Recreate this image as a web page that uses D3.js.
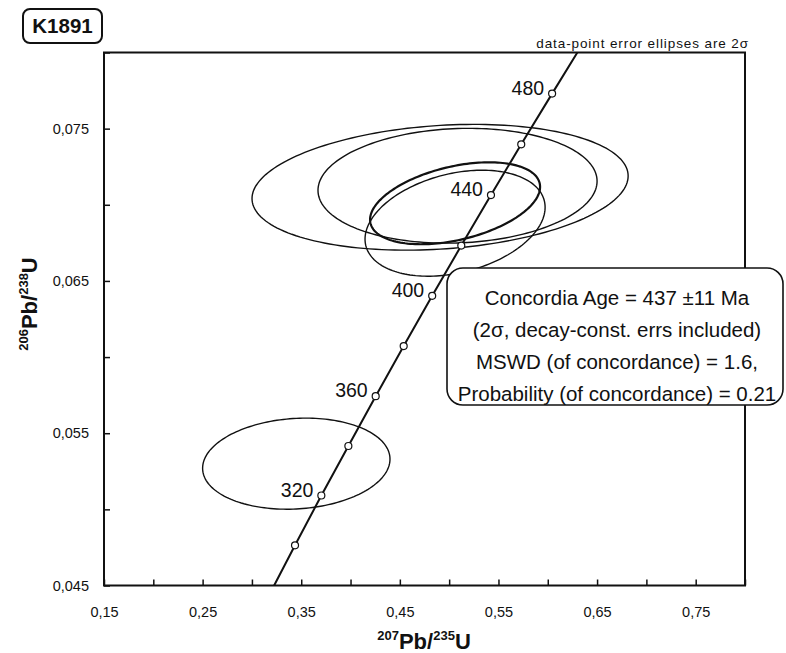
<!DOCTYPE html>
<html>
<head>
<meta charset="utf-8">
<script src="https://cdn.jsdelivr.net/npm/d3@7"></script>
<style>
    body { margin: 0; background: #fff; }
    text { font-family: "Liberation Sans", Arial, sans-serif; fill: #111; }
</style>
</head>
<body>
<div id="chart"></div>
<script>

// error ellipses (2 sigma): centre, half-widths and error correlation
var ellX   = [0.4908, 0.5085, 0.5060, 0.5060, 0.3450];
var ellY   = [0.07115, 0.07125, 0.07010, 0.06879, 0.05300];
var ellSX  = [0.1907, 0.1415, 0.0862, 0.0913, 0.0950];
var ellSY  = [0.00413, 0.00377, 0.00269, 0.00348, 0.00299];
var ellRho = [0.18, 0.08, 0.40, 0.30, 0.10];
var ellBold = [false, false, true, false, false];

// concordia curve, read at 20 Ma steps (ends clipped to the frame)
var concAge = [284, 300, 320, 340, 360, 380, 400, 420, 440, 460, 480, 496];
var concX   = [0.3225, 0.3437, 0.3704, 0.3978, 0.4255, 0.4539, 0.4828, 0.5123, 0.5424, 0.5731, 0.6044, 0.6300];
var concY   = [0.04500, 0.04764, 0.05091, 0.05416, 0.05743, 0.06072, 0.06402, 0.06732, 0.07064, 0.07397, 0.07730, 0.08000];
var markerAges = [300, 320, 340, 360, 380, 400, 420, 440, 460, 480];
var labelAges  = [320, 360, 400, 440, 480];

// axes
var xTicks = [0.15, 0.20, 0.25, 0.30, 0.35, 0.40, 0.45, 0.50, 0.55, 0.60, 0.65, 0.70, 0.75, 0.80];
var xTickLabels = {"0.15": "0,15", "0.25": "0,25", "0.35": "0,35", "0.45": "0,45", "0.55": "0,55", "0.65": "0,65", "0.75": "0,75"};
var yTicks = [0.045, 0.050, 0.055, 0.060, 0.065, 0.070, 0.075, 0.080];
var yTickLabels = {"0.045": "0,045", "0.055": "0,055", "0.065": "0,065", "0.075": "0,075"};

var infoLines = [
    "Concordia Age = 437 \u00b111 Ma",
    "(2\u03c3, decay-const. errs included)",
    "MSWD (of concordance) = 1.6,",
    "Probability (of concordance) = 0.21"
];

var margin = {top: 52.5, right: 41, bottom: 67.5, left: 104};
var width = 786 - margin.left - margin.right,
    height = 653 - margin.top - margin.bottom;

var root = d3.select("#chart").append("svg")
    .attr("width", 786)
    .attr("height", 653);

var svg = root.append("g")
    .attr("transform", "translate(" + margin.left + "," + margin.top + ")");

var x = d3.scaleLinear().domain([0.15, 0.80]).range([0, width]);
var y = d3.scaleLinear().domain([0.045, 0.080]).range([height, 0]);

// axes with inward ticks
var xAxis = d3.axisBottom(x)
    .tickValues(xTicks)
    .tickSizeInner(-6).tickSizeOuter(0)
    .tickPadding(21)
    .tickFormat(function(d) { return xTickLabels[d.toFixed(2)] || ""; });
var yAxis = d3.axisLeft(y)
    .tickValues(yTicks)
    .tickSizeInner(-6).tickSizeOuter(0)
    .tickPadding(15)
    .tickFormat(function(d) { return yTickLabels[d.toFixed(3)] || ""; });

var gx = svg.append("g").attr("transform", "translate(0," + height + ")").call(xAxis);
var gy = svg.append("g").call(yAxis);
[gx, gy].forEach(function(g) {
    g.select(".domain").remove();
    g.selectAll("line").attr("stroke", "#111").attr("stroke-width", 1.5);
    g.selectAll("text").attr("font-size", 14.5).attr("fill", "#111")
        .style("font-family", "'Liberation Sans', Arial, sans-serif");
});

// frame
svg.append("rect")
    .attr("width", width).attr("height", height)
    .attr("fill", "none").attr("stroke", "#111").attr("stroke-width", 2);

// ellipses
var theta = d3.range(0, 2 * Math.PI, Math.PI / 90);
var ellLine = d3.line().curve(d3.curveLinearClosed);

ellX.forEach(function(cx, i) {
    var pts = theta.map(function(t) {
        var ex = cx + ellSX[i] * Math.cos(t);
        var ey = ellY[i] + ellSY[i] * (ellRho[i] * Math.cos(t) + Math.sqrt(1 - ellRho[i] * ellRho[i]) * Math.sin(t));
        return [x(ex), y(ey)];
    });
    svg.append("path")
        .attr("d", ellLine(pts))
        .attr("fill", "none")
        .attr("stroke", "#111")
        .attr("stroke-width", ellBold[i] ? 2.2 : 1.4);
});

// concordia
var conc = concAge.map(function(a, i) { return {age: a, x: concX[i], y: concY[i]}; });
svg.append("path")
    .attr("d", d3.line().x(function(d) { return x(d.x); }).y(function(d) { return y(d.y); })(conc))
    .attr("fill", "none").attr("stroke", "#111").attr("stroke-width", 2);

var markers = conc.filter(function(d) { return markerAges.indexOf(d.age) >= 0; });
svg.selectAll(".marker")
    .data(markers)
    .enter().append("circle")
    .attr("class", "marker")
    .attr("cx", function(d) { return x(d.x); })
    .attr("cy", function(d) { return y(d.y); })
    .attr("r", 3.5)
    .attr("fill", "#fff").attr("stroke", "#111").attr("stroke-width", 1.2);

svg.selectAll(".age")
    .data(markers.filter(function(d) { return labelAges.indexOf(d.age) >= 0; }))
    .enter().append("text")
    .attr("class", "age")
    .attr("x", function(d) { return x(d.x) - 8; })
    .attr("y", function(d) { return y(d.y) - 6; })
    .attr("dy", "0.36em")
    .attr("text-anchor", "end")
    .attr("font-size", 19.5)
    .text(function(d) { return d.age; });

// result box
root.append("rect")
    .attr("x", 447).attr("y", 268).attr("width", 336).attr("height", 137)
    .attr("rx", 16)
    .attr("fill", "#fff").attr("stroke", "#111").attr("stroke-width", 1.6);
root.selectAll(".info")
    .data(infoLines)
    .enter().append("text")
    .attr("class", "info")
    .attr("x", 617)
    .attr("y", function(d, i) { return 305 + i * 32; })
    .attr("text-anchor", "middle")
    .attr("font-size", 20.5)
    .text(function(d) { return d; });

root.append("text")
    .attr("x", 749).attr("y", 48)
    .attr("text-anchor", "end")
    .attr("font-size", 13.5)
    .attr("letter-spacing", 0.9)
    .text("data-point error ellipses are 2\u03c3");

// sample label
root.append("rect")
    .attr("x", 23).attr("y", 9).attr("width", 79).attr("height", 34)
    .attr("rx", 7)
    .attr("fill", "#fff").attr("stroke", "#111").attr("stroke-width", 2);
root.append("text")
    .attr("x", 62.5).attr("y", 33)
    .attr("text-anchor", "middle")
    .attr("font-size", 20.5).attr("font-weight", "bold")
    .text("K1891");

// axis titles
var xt = root.append("text")
    .attr("x", 424).attr("y", 649)
    .attr("text-anchor", "middle")
    .attr("font-weight", "bold");
xt.append("tspan").attr("font-size", 13).attr("dy", -9).text("207");
xt.append("tspan").attr("font-size", 22).attr("dy", 9).text("Pb/");
xt.append("tspan").attr("font-size", 13).attr("dy", -9).text("235");
xt.append("tspan").attr("font-size", 22).attr("dy", 9).text("U");

var yt = root.append("text")
    .attr("transform", "translate(37,304) rotate(-90)")
    .attr("text-anchor", "middle")
    .attr("font-weight", "bold");
yt.append("tspan").attr("font-size", 13).attr("dy", -9).text("206");
yt.append("tspan").attr("font-size", 22).attr("dy", 9).text("Pb/");
yt.append("tspan").attr("font-size", 13).attr("dy", -9).text("238");
yt.append("tspan").attr("font-size", 22).attr("dy", 9).text("U");

</script>
</body>
</html>
